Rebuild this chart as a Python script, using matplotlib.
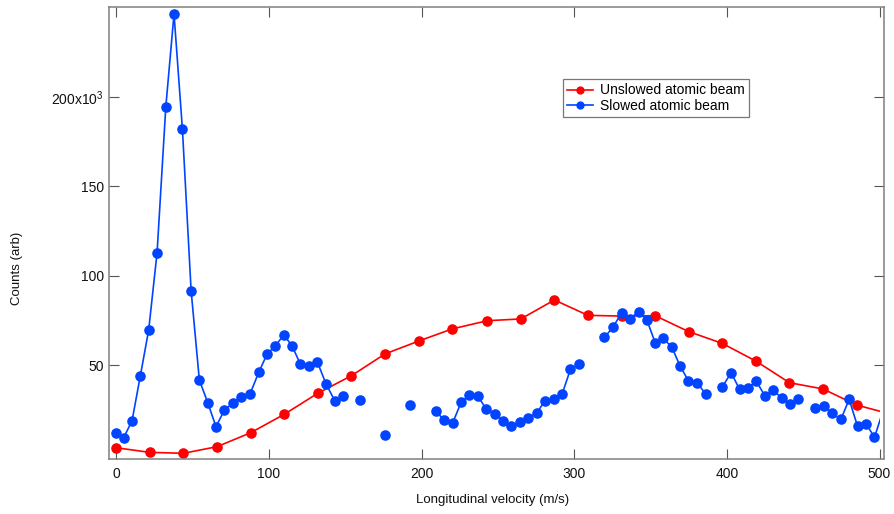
import numpy as np
import matplotlib
matplotlib.use("Agg")
import matplotlib.pyplot as plt
from matplotlib.patches import Rectangle

plt.rcParams['font.family'] = ['Liberation Sans', 'DejaVu Sans']
plt.rcParams['mathtext.fontset'] = 'custom'
plt.rcParams['mathtext.rm'] = 'Liberation Sans'

# Unslowed atomic beam (velocity m/s, counts in thousands)
unslowed_v = [0, 22, 44, 66, 88, 110, 132, 154, 176, 198, 220, 243, 265, 287,
              309, 331, 353, 375, 397, 419, 441, 463, 485, 507]
unslowed_k = [3.7, 1.1, 0.6, 4.3, 12.1, 22.4, 34.2, 44.0, 56.2, 63.4, 70.2, 74.8,
              75.8, 86.4, 77.8, 77.4, 77.6, 68.7, 62.1, 52.2, 40.1, 36.6, 27.6, 22.6]

nan = np.nan
# Slowed atomic beam (velocity m/s, counts in thousands); nan = missing sample
slowed_v = [0.0, 4.8, 10.3, 15.7, 21.2, 26.7, 32.4, 37.8, 43.3, 49.0,
            54.4, 59.9, 65.3, 70.8, 76.3, 81.7, 87.6, 93.3, 98.8, 104.2,
            109.7, 115.1, 120.6, 126.3, 131.7, 137.4, 143.1, 148.6, 154.1, 159.7,
            165.2, 170.7, 176.1, 181.6, 187.2, 192.7, 198.2, 203.8, 209.3, 214.7,
            220.4, 225.9, 231.3, 236.8, 242.3, 248.0, 253.4, 258.8, 264.5, 270.0,
            275.5, 280.9, 286.6, 292.0, 297.5, 303.2, 308.7, 314.2, 319.8, 325.3,
            331.0, 336.5, 342.1, 347.6, 353.0, 358.4, 364.0, 369.4, 374.8, 380.5,
            386.0, 391.5, 397.1, 402.8, 408.3, 413.8, 419.2, 424.9, 430.3, 435.8,
            441.5, 446.9, 452.4, 458.0, 463.5, 468.9, 474.7, 480.1, 485.6, 491.3,
            496.7, 502.2]
slowed_k = [11.7, 9.3, 18.8, 43.8, 69.6, 112.9, 194.3, 246.5, 182.0, 91.6,
            41.6, 28.9, 15.5, 24.8, 28.6, 32.3, 33.8, 45.9, 56.2, 60.8,
            66.8, 60.8, 50.4, 49.6, 51.7, 39.4, 30.0, 32.5, nan, 30.2,
            nan, nan, 10.8, nan, nan, 27.4, nan, nan, 24.2, 19.2,
            17.7, 29.1, 33.2, 32.6, 25.5, 22.7, 18.8, 16.0, 18.3, 20.3,
            23.3, 30.0, 30.8, 33.6, 47.6, 50.7, nan, nan, 65.5, 71.1,
            79.1, 76.0, 79.8, 75.2, 62.5, 64.9, 59.9, 49.3, 41.2, 40.1,
            33.9, nan, 37.9, 45.7, 36.4, 37.0, 41.0, 32.8, 36.0, 31.5,
            28.0, 30.8, nan, 25.9, 26.9, 23.0, 19.6, 30.8, 15.7, 17.0,
            9.5, 24.2]

x_ticks = [0, 100, 200, 300, 400, 500]
y_ticks = [50, 100, 150, 200]
y_tick_labels = ['50', '100', '150', '200x10$^{\\mathregular{3}}$']

W, H = 894, 514
fig = plt.figure(figsize=(W / 100, H / 100), dpi=100)
L, R, B, T = 109.3, 883.5, 459.0, 7.0
ax = fig.add_axes([L / W, 1 - B / H, (R - L) / W, (B - T) / H])

xmin, xmax = -4.6, 502.6
ymin, ymax = -2.6, 250.4
xend = 500
ax.set_xlim(xmin, xmax)
ax.set_ylim(ymin, ymax)

red = '#ff0000'
blue = '#0044ff'
mk_red = [i for i, v in enumerate(unslowed_v) if v <= xend]
mk_blue = [i for i, v in enumerate(slowed_v) if v <= xend]
l1, = ax.plot(unslowed_v, unslowed_k, '-o', color=red, lw=1.2, ms=6.6,
              mec=red, mfc=red, markevery=mk_red, label='Unslowed atomic beam')
l2, = ax.plot(slowed_v, slowed_k, '-o', color=blue, lw=1.2, ms=6.6,
              mec=blue, mfc=blue, markevery=mk_blue, label='Slowed atomic beam')

clip = Rectangle((xmin, ymin), xend - xmin, ymax - ymin, transform=ax.transData,
                 facecolor='none', edgecolor='none')
ax.add_patch(clip)
l1.set_clip_path(clip)
l2.set_clip_path(clip)

ax.set_xticks(x_ticks)
ax.set_xticklabels([str(t) for t in x_ticks])
ax.set_yticks(y_ticks)
ax.set_yticklabels(y_tick_labels)
ax.tick_params(axis='both', direction='in', top=True, right=True,
               length=7, width=0.8, color='#555555', labelsize=10,
               labelcolor='#111111')
ax.tick_params(axis='x', pad=6)
ax.tick_params(axis='y', pad=4)
for s in ax.spines.values():
    s.set_color('#808080')
    s.set_linewidth(1.1)

ax.set_xlabel('Longitudinal velocity (m/s)', fontsize=9.5, color='#111111')
ax.set_ylabel('Counts (arb)', fontsize=9.5, color='#111111')
ax.xaxis.set_label_coords((493 - L) / (R - L), (B - 500) / (B - T))
ax.xaxis.label.set_va('center')
ax.yaxis.set_label_coords((17 - L) / (R - L), (B - 268) / (B - T))
ax.yaxis.label.set_va('center')

leg = ax.legend(loc='upper left', bbox_to_anchor=(562.7 / W, 1 - 79.3 / H),
                bbox_transform=fig.transFigure, borderaxespad=0,
                fancybox=False, frameon=True, fontsize=10, markerscale=0.75,
                handlelength=1.9, handletextpad=0.5, borderpad=0.3,
                labelspacing=0.1)
leg.get_frame().set_edgecolor('#555555')
leg.get_frame().set_linewidth(0.9)

fig.savefig('out.png', dpi=100)
